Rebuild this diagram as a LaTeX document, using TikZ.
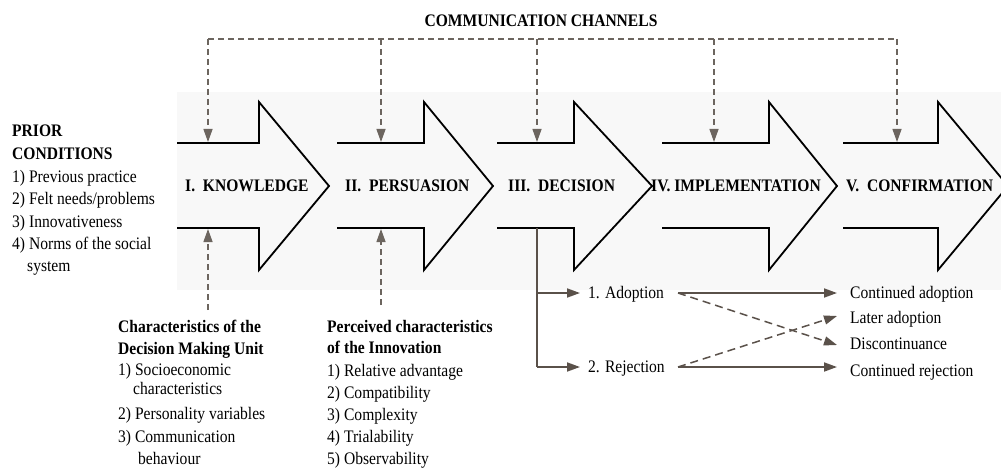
\documentclass[tikz,border=0pt]{standalone}
\usepackage{fontspec}
\setmainfont{Liberation Serif}
\newfontfamily\labelfont[FakeStretch=0.885]{Liberation Serif}
\usetikzlibrary{arrows.meta}
\definecolor{conn}{RGB}{90,81,74}
\definecolor{dashc}{RGB}{108,101,95}
\definecolor{panel}{RGB}{248,248,248}

% block arrow with an open tail: tail x, head base x, tip x
\newcommand\stagearrow[3]{%
  \draw[stageshape] (#1,143) -- (#2,143) -- (#2,102) -- (#3,186)
    -- (#2,270) -- (#2,228) -- (#1,228);}

\begin{document}
\begin{tikzpicture}[x=1pt,y=-1pt,
  stageshape/.style={draw=black,line width=1.8pt,line join=miter},
  txt/.style={anchor=base west,inner sep=0pt,font=\labelfont\fontsize{17.6}{20}\selectfont},
  bold/.style={txt,font=\labelfont\fontsize{17.6}{20}\selectfont\bfseries},
  channel/.style={draw=dashc,line width=1.3pt,dash pattern=on 6pt off 4pt},
  solidc/.style={draw=conn,line width=1.8pt},
  crossc/.style={draw=conn,line width=1.5pt,dash pattern=on 8pt off 5pt},
  tip/.style={-{Triangle[length=13pt,width=9pt]}}
]
\useasboundingbox (0,0) rectangle (1001,468);
\clip (0,0) rectangle (1001,468);

% shaded band behind the stages
\fill[panel] (177,92) rectangle (1001,290);

% the five stages
\stagearrow{177}{259}{329}
\stagearrow{337}{424}{493}
\stagearrow{497}{574}{652}
\stagearrow{662}{769}{837}
\stagearrow{843}{938}{1008}

\node[bold] (s1) at (185,191) {I.\ \ KNOWLEDGE};
\node[bold] (s2) at (345,191) {II.\ \ PERSUASION};
\node[bold] (s3) at (508,191) {III.\ \ DECISION};
\node[bold] (s4) at (651,191) {IV. IMPLEMENTATION};
\node[bold] (s5) at (846,191) {V.\ \ CONFIRMATION};

% communication channels
\node[bold,anchor=base] (cc) at (541,27) {COMMUNICATION CHANNELS};
\coordinate (cc1) at (208,39);
\coordinate (cc2) at (381,39);
\coordinate (cc3) at (537,39);
\coordinate (cc4) at (714,39);
\coordinate (cc5) at (897,39);
\coordinate (in1) at (208,142);
\coordinate (in2) at (381,142);
\coordinate (in3) at (537,142);
\coordinate (in4) at (714,142);
\coordinate (in5) at (897,142);
\draw[channel] (cc1) -- (cc5);
\foreach \i in {1,...,5} \draw[channel,tip] (cc\i) -- (in\i);

% prior conditions
\node[bold] (pc1) at (12,137) {PRIOR};
\node[bold] (pc2) at (12,159) {CONDITIONS};
\node[txt] (pc3) at (12,182) {1) Previous practice};
\node[txt] (pc4) at (12,204) {2) Felt needs/problems};
\node[txt] (pc5) at (12,227) {3) Innovativeness};
\node[txt] (pc6) at (12,249) {4) Norms of the social};
\node[txt] (pc7) at (27,271) {system};

% characteristics of the decision making unit
\node[bold] (du1) at (118,332) {Characteristics of the};
\node[bold] (du2) at (118,354) {Decision Making Unit};
\node[txt] (du3) at (118,375) {1) Socioeconomic};
\node[txt] (du4) at (133,394) {characteristics};
\node[txt] (du5) at (118,419) {2) Personality variables};
\node[txt] (du6) at (118,442) {3) Communication};
\node[txt] (du7) at (138,464) {behaviour};
\coordinate (du-top) at (208,310);
\coordinate (k-bot) at (208,229);
\draw[channel,tip] (du-top) -- (k-bot);

% perceived characteristics of the innovation
\node[bold] (pi1) at (327,332) {Perceived characteristics};
\node[bold] (pi2) at (327,353) {of the Innovation};
\node[txt] (pi3) at (327,376) {1) Relative advantage};
\node[txt] (pi4) at (327,398) {2) Compatibility};
\node[txt] (pi5) at (327,420) {3) Complexity};
\node[txt] (pi6) at (327,442) {4) Trialability};
\node[txt] (pi7) at (327,464) {5) Observability};
\coordinate (pi-top) at (381,305);
\coordinate (p-bot) at (381,229);
\draw[channel,tip] (pi-top) -- (p-bot);

% decision outcomes
\node[txt] (ad) at (588,298) {1. Adoption};
\node[txt] (rj) at (588,372) {2. Rejection};
\coordinate (d-bot) at (537,228);
\coordinate (d-a) at (537,293);
\coordinate (d-r) at (537,367);
\draw[solidc] (d-bot) -- (d-r);
\draw[solidc,tip,shorten >=8pt] (d-a) -- (d-a -| ad.west);
\draw[solidc,tip,shorten >=8pt] (d-r) -- (d-r -| rj.west);

% confirmation outcomes
\node[txt] (o1) at (850,298) {Continued adoption};
\node[txt] (o2) at (850,323) {Later adoption};
\node[txt] (o3) at (850,349) {Discontinuance};
\node[txt] (o4) at (850,376) {Continued rejection};
\coordinate (a-out) at (678,293);
\coordinate (r-out) at (678,367);
\coordinate (o1-in) at (837,293);
\coordinate (o2-in) at (837,316);
\coordinate (o3-in) at (837,345);
\coordinate (o4-in) at (837,367);
\draw[solidc,tip] (a-out) -- (o1-in);
\draw[solidc,tip] (r-out) -- (o4-in);
\draw[crossc,tip] (a-out) -- (o3-in);
\draw[crossc,tip] (r-out) -- (o2-in);
\end{tikzpicture}
\end{document}
